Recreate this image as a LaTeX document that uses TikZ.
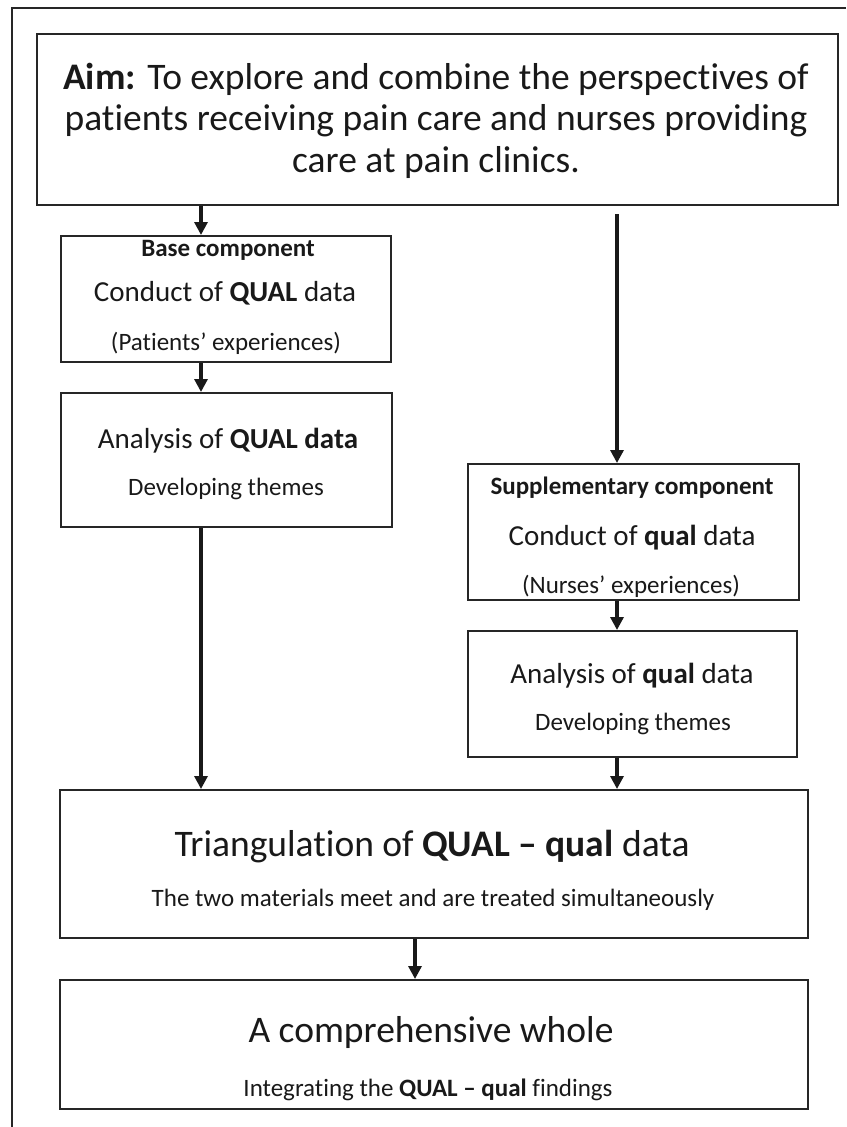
\documentclass[tikz,border=0pt]{standalone}
\usepackage{fontspec}
\setmainfont{Carlito}[Ligatures=CommonOff]
\usetikzlibrary{arrows.meta, positioning}

\begin{document}
\begin{tikzpicture}[x=1pt, y=-1pt,
    box/.style={draw=black!85, line width=2pt, anchor=north west, inner sep=0pt},
    arrow/.style={-{Triangle[length=13pt, width=13pt]}, line width=3.2pt, black!90},
    big/.style={font=\fontsize{37.5}{45}\selectfont, inner sep=0pt, text=black!90},
    mid/.style={font=\fontsize{29}{35}\selectfont, inner sep=0pt, text=black!90},
    small/.style={font=\fontsize{25}{30}\selectfont, inner sep=0pt, text=black!90}
]
    \useasboundingbox (0,0) rectangle (846,1127);
    % outer frame, cut off at right and bottom
    \draw[black!85, line width=2.5pt] (12,1127) -- (12,8) -- (846,8);

    % boxes
    \node[box, minimum width=801pt, minimum height=171pt] (aim) at (36,33) {};
    \node[box, minimum width=330pt, minimum height=126pt] (base) at (60,235) {};
    \node[box, minimum width=331pt, minimum height=134pt] (anaQUAL) at (60,392) {};
    \node[box, minimum width=331pt, minimum height=136pt] (supp) at (467,463) {};
    \node[box, minimum width=329pt, minimum height=126pt] (anaqual) at (467,630) {};
    \node[box, minimum width=748pt, minimum height=148pt] (tri) at (59,789) {};
    \node[box, minimum width=748pt, minimum height=129pt] (whole) at (59,979) {};

    % texts
    \node[big] (aimA) at (436,79) {\textbf{Aim:} To explore and combine the perspectives of};
    \node[big] (aimB) at (436,121) {patients receiving pain care and nurses providing};
    \node[big] (aimC) at (436,163) {care at pain clinics.};

    \node[small] (baseA) at (228,250) {\textbf{Base component}};
    \node[mid] (baseB) at (225,293) {Conduct of \textbf{QUAL} data};
    \node[small] (baseC) at (226,343) {(Patients’ experiences)};

    \node[mid] (anaQUALA) at (228,441) {Analysis of \textbf{QUAL data}};
    \node[small] (anaQUALB) at (226,489) {Developing themes};

    \node[small] (suppA) at (632,488) {\textbf{Supplementary component}};
    \node[mid] (suppB) at (632,538) {Conduct of \textbf{qual} data};
    \node[small] (suppC) at (631,586) {(Nurses’ experiences)};

    \node[mid] (anaqualA) at (632,676) {Analysis of \textbf{qual} data};
    \node[small] (anaqualB) at (633,724) {Developing themes};

    \node[big] (triA) at (432,847) {Triangulation of \textbf{QUAL -- qual} data};
    \node[small] (triB) at (433,900) {The two materials meet and are treated simultaneously};

    \node[big] (wholeA) at (431,1032) {A comprehensive whole};
    \node[small] (wholeB) at (428,1090) {Integrating the \textbf{QUAL -- qual} findings};

    % arrow columns
    \coordinate (colL) at (201,0);
    \coordinate (colR) at (617,0);
    \coordinate (colM) at (415,0);

    \draw[arrow] (aim.south -| colL) -- (base.north -| colL);
    \draw[arrow, shorten <=8pt] (aim.south -| colR) -- (supp.north -| colR);
    \draw[arrow] (base.south -| colL) -- (anaQUAL.north -| colL);
    \draw[arrow] (anaQUAL.south -| colL) -- (tri.north -| colL);
    \draw[arrow] (supp.south -| colR) -- (anaqual.north -| colR);
    \draw[arrow] (anaqual.south -| colR) -- (tri.north -| colR);
    \draw[arrow] (tri.south -| colM) -- (whole.north -| colM);
\end{tikzpicture}
\end{document}
